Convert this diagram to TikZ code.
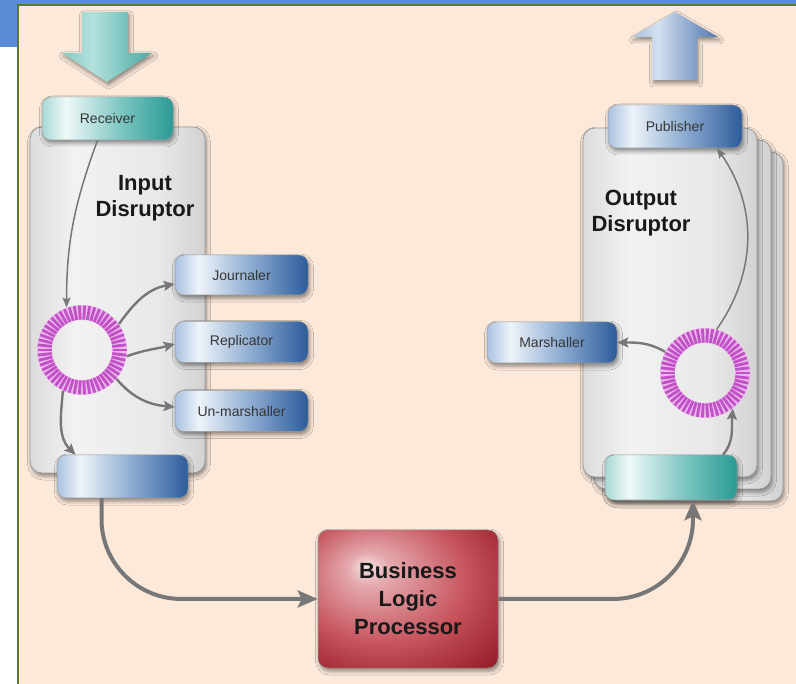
\documentclass[tikz,border=0pt]{standalone}
\usepackage{fontspec}
\setmainfont{Liberation Sans}
\usetikzlibrary{arrows.meta,shadows.blur,calc}

\definecolor{peach}{HTML}{FCE9DA}
\definecolor{frameolive}{HTML}{5B7A2C}
\definecolor{barblue}{HTML}{5A8CD6}
\definecolor{bA}{HTML}{A9C2E0}
\definecolor{bB}{HTML}{EEF3F9}
\definecolor{bC}{HTML}{86A6CE}
\definecolor{bD}{HTML}{2D5C9A}
\definecolor{tA}{HTML}{A7D8D4}
\definecolor{tB}{HTML}{EFF9F8}
\definecolor{tC}{HTML}{7CC6C1}
\definecolor{tD}{HTML}{2A9A94}
\definecolor{taA}{HTML}{86CBC5}
\definecolor{taB}{HTML}{B4E1DD}
\definecolor{taC}{HTML}{79C3BD}
\definecolor{taD}{HTML}{4FA9A2}
\definecolor{baA}{HTML}{A7BEDC}
\definecolor{baB}{HTML}{D3E0EF}
\definecolor{baC}{HTML}{8EA9CF}
\definecolor{baD}{HTML}{4F78AE}
\definecolor{gA}{HTML}{DCDCDC}
\definecolor{gB}{HTML}{F2F2F2}
\definecolor{gC}{HTML}{E8E8E8}
\definecolor{gD}{HTML}{D2D2D2}
\definecolor{rA}{HTML}{F6E2E2}
\definecolor{rB}{HTML}{E4A9AD}
\definecolor{rC}{HTML}{C6525C}
\definecolor{rD}{HTML}{951C26}
\definecolor{ringmag}{HTML}{C251C8}
\definecolor{ringpale}{HTML}{EBB8EC}
\definecolor{conn}{HTML}{777777}
\definecolor{labeltext}{HTML}{363636}
\definecolor{boxedge}{HTML}{9C9C9C}

% left-to-right gradients with a soft highlight near the left
\pgfdeclarehorizontalshading{bluegrad}{100bp}{color(0bp)=(bA); color(25bp)=(bA); color(34bp)=(bB); color(55bp)=(bC); color(75bp)=(bD); color(100bp)=(bD)}
\pgfdeclarehorizontalshading{tealgrad}{100bp}{color(0bp)=(tA); color(25bp)=(tA); color(34bp)=(tB); color(55bp)=(tC); color(75bp)=(tD); color(100bp)=(tD)}
\pgfdeclarehorizontalshading{tealarrow}{100bp}{color(0bp)=(taA); color(25bp)=(taA); color(42bp)=(taB); color(60bp)=(taC); color(75bp)=(taD); color(100bp)=(taD)}
\pgfdeclarehorizontalshading{bluearrow}{100bp}{color(0bp)=(baA); color(25bp)=(baA); color(40bp)=(baB); color(58bp)=(baC); color(75bp)=(baD); color(100bp)=(baD)}
\pgfdeclarehorizontalshading{graygrad}{100bp}{color(0bp)=(gA); color(25bp)=(gA); color(38bp)=(gB); color(62bp)=(gC); color(75bp)=(gD); color(100bp)=(gD)}
\pgfdeclareradialshading{redglow}{\pgfpoint{-12bp}{12bp}}{color(0bp)=(rA); color(6bp)=(rB); color(24bp)=(rC); color(40bp)=(rD); color(60bp)=(rD)}

\begin{document}
\begin{tikzpicture}[x=1pt,y=1pt,
  softshadow/.style={blur shadow={shadow xshift=1.5pt, shadow yshift=-3pt, shadow blur radius=4pt, shadow opacity=45}},
  label/.style={rounded corners=9pt, draw=boxedge, line width=0.5pt, shade, softshadow,
    inner sep=0pt, font=\fontsize{14}{16}\selectfont, text=labeltext},
  bluebox/.style={label, shading=bluegrad},
  tealbox/.style={label, shading=tealgrad},
  disrbox/.style={rounded corners=12pt, draw=boxedge, line width=0.8pt, shade, shading=graygrad, softshadow, inner sep=0pt},
  title/.style={font=\bfseries\fontsize{22}{26}\selectfont, text=black!90, align=center},
  ringnode/.style={circle, minimum size=90pt, inner sep=0pt},
  bigarr/.style={draw=conn, line width=4pt, -{Stealth[length=20pt,width=17pt,inset=4pt]}},
  midarr/.style={draw=conn, line width=2.4pt, -{Stealth[length=11pt,width=10pt,inset=2pt]}},
  thinarr/.style={draw=conn, line width=1.5pt, -{Stealth[length=10pt,width=8pt,inset=2pt]}}
]
\useasboundingbox (0,0) rectangle (796,-684);

% page frame
\fill[white] (0,0) rectangle (796,-684);
\fill[barblue] (0,0) rectangle (796,-5);
\fill[barblue] (0,0) rectangle (17,-47);
\fill[peach] (17,-5) rectangle (796,-684);
\draw[frameolive, line width=2pt] (17.5,-684) -- (17.5,-5.5) -- (796,-5.5);

% incoming and outgoing block arrows
\shade[shading=tealarrow, softshadow] (82,-12) -- (128,-12) -- (128,-53) -- (152,-53) -- (107,-82) -- (62,-53) -- (82,-53) -- cycle;
\shade[shading=bluearrow, softshadow] (675,-12) -- (718,-37) -- (697,-37) -- (697,-80) -- (652,-80) -- (652,-37) -- (632,-37) -- cycle;

% input disruptor
\node[disrbox, minimum width=175pt, minimum height=346pt] (idisr) at (117.5,-300) {};
\node[tealbox, minimum width=131pt, minimum height=43pt] (recv) at (107.5,-118.5) {Receiver};
\node[bluebox, minimum width=131pt, minimum height=43pt] (ibot) at (122.5,-476.5) {};
\node[bluebox, minimum width=133pt, minimum height=40pt] (jour) at (241.5,-275) {Journaler};
\node[bluebox, minimum width=133pt, minimum height=41pt] (repl) at (241.5,-342) {Replicator};
\node[bluebox, minimum width=133pt, minimum height=41pt] (unm) at (241.5,-411) {Un-marshaller};
\node[title] (ititle) at (145,-198) {Input\\Disruptor};
\node[ringnode] (ring1) at (82,-350) {};

% output disruptor (stacked)
\node[disrbox, minimum width=178pt, minimum height=349pt] (oback2) at (694,-326.5) {};
\node[disrbox, minimum width=177pt, minimum height=349pt] (oback1) at (682.5,-314.5) {};
\node[disrbox, minimum width=174pt, minimum height=349pt] (odisr) at (670,-302.5) {};
\node[bluebox, minimum width=134pt, minimum height=43pt] (pub) at (675,-126.5) {Publisher};
\node[tealbox, minimum width=132pt, minimum height=45pt] (obot) at (671,-477.5) {};
\node[bluebox, minimum width=130pt, minimum height=41pt] (marsh) at (552,-342.5) {Marshaller};
\node[title] (otitle) at (641,-213) {Output\\Disruptor};
\node[ringnode] (ring2) at (705,-373) {};

% ring buffers: 54 radial slots each
\foreach \r in {ring1,ring2}{
  \begin{scope}[shift={(\r.center)}]
    \fill[ringpale, even odd rule] (0,0) circle (45) (0,0) circle (30);
    \foreach \i in {0,...,53}
      \draw[ringmag, line width=2.8pt] ({\i*20/3}:30.5) -- ({\i*20/3}:44.5);
  \end{scope}
}

% business logic processor
\node[rounded corners=10pt, draw=black!45, line width=0.5pt, shade, shading=redglow, softshadow,
      minimum width=180pt, minimum height=138pt, inner sep=0pt,
      font=\bfseries\fontsize{22}{28}\selectfont, text=black!90, align=center] (blp) at (408,-599)
      {Business\\Logic\\Processor};

% flows inside the input disruptor
\draw[thinarr] ([xshift=-10pt]recv.south) to[out=-110,in=90] (ring1.110);
\draw[midarr] (ring1.35) to[out=55,in=190] ([yshift=-9pt]jour.west);
\draw[midarr] (ring1.-8) to[out=20,in=195] ([yshift=-2pt]repl.west);
\draw[midarr] (ring1.-40) to[out=-50,in=175] ([yshift=4pt]unm.west);
\draw[midarr] (ring1.-115) to[out=-95,in=135] ([xshift=-47pt]ibot.north);

% flows inside the output disruptor
\draw[midarr] ([xshift=52pt]obot.north) to[out=50,in=-95] (ring2.-52);
\draw[midarr] (ring2.152) to[out=150,in=0] (marsh.east);
\draw[thinarr] (ring2.75) to[out=55,in=-55] ([xshift=42pt]pub.south);

% flows between the disruptors and the business logic
\draw[bigarr, rounded corners=80pt] ([xshift=-21pt]ibot.south) |- (blp.west);
\draw[bigarr, rounded corners=80pt] (blp.east) -| ([xshift=22pt]obot.south);
\end{tikzpicture}
\end{document}
